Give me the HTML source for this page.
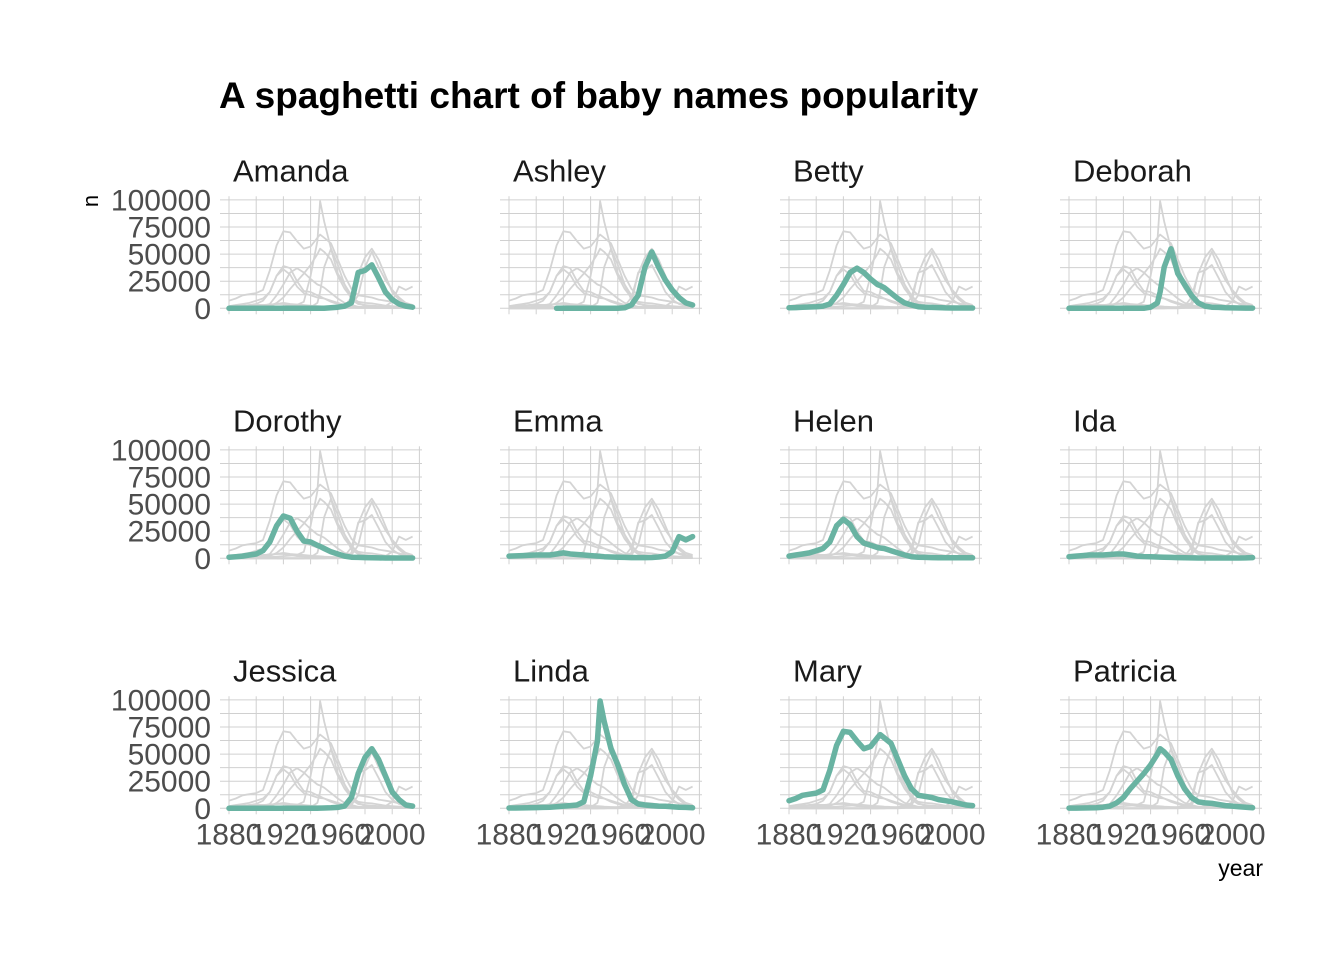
<!DOCTYPE html>
<html><head><meta charset="utf-8">
<style>
html,body{margin:0;padding:0;background:#fff;}
svg{display:block;font-family:"Liberation Sans",Arial,sans-serif;}
</style></head>
<body>
<svg id="chart" width="1344" height="960" viewBox="0 0 1344 960" xmlns="http://www.w3.org/2000/svg">
<rect width="1344" height="960" fill="#fff"/>
<text x="219" y="108" font-size="37" font-weight="bold" fill="#000">A spaghetti chart of baby names popularity</text>
<text transform="translate(98,201) rotate(-90)" font-size="22" text-anchor="middle" fill="#000">n</text>
<text x="1263" y="876" font-size="23" text-anchor="end" fill="#000">year</text>
<g id="panels"></g>
</svg>
<script>
const years = [1880,1885,1890,1895,1900,1905,1910,1915,1920,1925,1930,1935,1940,1945,1947,1950,1955,1960,1965,1970,1975,1980,1985,1990,1995,2000,2005,2010,2015];
const names = ["Amanda","Ashley","Betty","Deborah","Dorothy","Emma","Helen","Ida","Jessica","Linda","Mary","Patricia"];
const amanda = [0,0,0,0,0,0,0,0,0,0,0,0,0,0,0,0,0.5,1,2,5,33,35,40,28,15,8,4,2,1];
const ashley = [null,null,null,null,null,null,null,0,0,0,0,0,0,0,0,0,0,0,0.5,3,12,38,52,38,26,17,10,5,3];
const betty = [0.5,0.6,1,1.2,1.5,2,4,12,22,33,37,33,27,22,21,19,14,9,5,3,1.5,1,0.8,0.6,0.4,0.3,0.3,0.3,0.3];
const deborah = [0,0,0,0,0,0,0,0,0,0,0,0,1,5,15,38,55,32,22,12,5,2,1,0.8,0.5,0.4,0.3,0.2,0.2];
const dorothy = [1,1.5,2,3,4,7,15,30,39,37,25,16,15,12,11,9,6,4,2,1,0.8,0.6,0.5,0.4,0.3,0.3,0.3,0.3,0.3];
const emma = [2,2.2,2.5,2.8,3,3,3,4,5,4,3.5,3,2.5,2,1.8,1.5,1.2,1,0.8,0.6,0.6,0.6,0.7,1.2,2,6,20,17,20];
const helen = [2,3,4,5,7,9,15,30,36,31,20,14,12,10,9.5,9,7,5,3,1.5,1,0.8,0.6,0.5,0.5,0.5,0.5,0.5,0.5];
const ida = [1.5,2,2.5,3,3,3,3.5,4,4,3,2,1.7,1.5,1.2,1.1,1,0.8,0.6,0.5,0.4,0.3,0.3,0.3,0.3,0.3,0.3,0.3,0.4,0.6];
const jessica = [0,0,0,0,0,0,0,0,0,0,0,0,0,0,0.2,0.3,0.5,0.8,2,10,32,47,55,45,30,15,8,3,2];
const linda = [0.3,0.3,0.4,0.5,0.6,0.8,1,1.5,2,2.5,3,6,30,62,99,80,55,40,22,8,4,3,2.5,2,1.8,1.5,1,0.8,0.5];
const mary = [7,9,12,13,14,17,35,58,71,70,62,55,57,65,68,65,60,45,30,18,12,11,10,8,7,6,4.5,3,2.5];
const patricia = [0.2,0.2,0.3,0.4,0.5,1,2,5,10,18,25,32,40,50,55,52,45,30,18,10,6,5,4.5,3.5,2.5,2,1.5,1,0.5];
const seriesList = [amanda,ashley,betty,deborah,dorothy,emma,helen,ida,jessica,linda,mary,patricia];
const yTicks = [0,25000,50000,75000,100000];
const yTickLabels = ["0","25000","50000","75000","100000"];
const xTicks = [1880,1920,1960,2000];
const xTickLabels = ["1880","1920","1960","2000"];

const NS = "http://www.w3.org/2000/svg";
const root = document.getElementById("panels");
function mk(tag, attrs, parent){const e=document.createElementNS(NS,tag);for(const k in attrs)e.setAttribute(k,attrs[k]);parent.appendChild(e);return e;}

names.forEach((name,i)=>{
  const col=i%4,row=Math.floor(i/4);
  const px0=220+col*280, base=308.3+row*250;
  const xs=y=>px0+9+(y-1880)*1.36;
  const ys=v=>base-v*1.084/1000;
  const g=mk("g",{},root);
  
  
  for(let k=0;k<=8;k++){
    const y=ys(k*12500);
    const l=mk("line",{x1:px0,x2:px0+202,y1:y,y2:y,stroke:"#d0d0d0","stroke-width":1},g);
    
    
  }
  for(let yr=1880;yr<=2020;yr+=20){
    const x=xs(yr);
    const l=mk("line",{x1:x,x2:x,y1:base-112,y2:base+6,stroke:"#d0d0d0","stroke-width":1},g);
    
    
  }
  const t=mk("text",{x:px0+13,y:base-127,"font-size":31,fill:"#1a1a1a"},g);
  t.textContent=name;
  
  
  seriesList.forEach((s,j)=>{
    let d="",pen=false;
    s.forEach((v,k)=>{if(v===null){pen=false;return;}d+=(pen?"L":"M")+xs(years[k]).toFixed(1)+","+ys(v*1000).toFixed(1);pen=true;});
    const p=mk("path",{d:d,fill:"none",stroke:"#d4d4d4","stroke-width":1.8,"stroke-linejoin":"round"},g);
    
    
  });
  const s=seriesList[i];
  let d="",pen=false;
  s.forEach((v,k)=>{if(v===null){pen=false;return;}d+=(pen?"L":"M")+xs(years[k]).toFixed(1)+","+ys(v*1000).toFixed(1);pen=true;});
  const p=mk("path",{d:d,fill:"none",stroke:"#69b3a2","stroke-width":5.5,"stroke-linejoin":"round","stroke-linecap":"round"},g);
  
  
  if(col===0){
    yTicks.forEach((v,k)=>{
      const tt=mk("text",{x:211,y:ys(v)+10.5,"font-size":30,"text-anchor":"end",fill:"#4d4d4d"},g);
      tt.textContent=yTickLabels[k];
      
      
    });
  }
  if(row===2){
    xTicks.forEach((yr,k)=>{
      const tt=mk("text",{x:xs(yr),y:base+36,"font-size":30,"text-anchor":"middle",fill:"#4d4d4d"},g);
      tt.textContent=xTickLabels[k];
      
      
    });
  }
});
</script>
</body></html>
